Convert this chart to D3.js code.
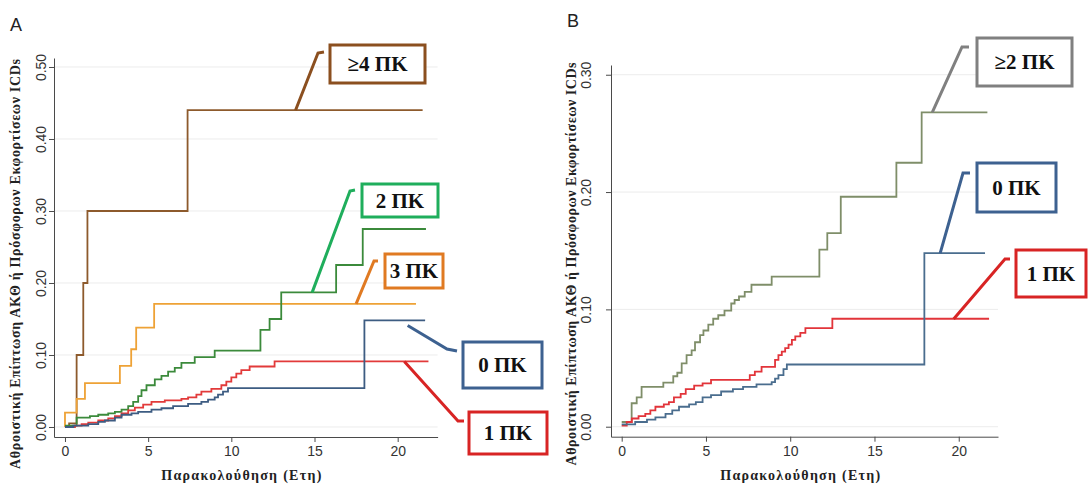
<!DOCTYPE html>
<html>
<head>
<meta charset="utf-8">
<script src="https://cdn.jsdelivr.net/npm/d3@7"></script>
<style>
  body { margin: 0; background: #fff; }
  svg { display: block; }
</style>
</head>
<body>
<svg id="chart"></svg>
<script>
// step data: [years, cumulative incidence]
const a0PK = [[0,0],[0.5,0.002],[1.4,0.004],[2.0,0.007],[2.4,0.009],[3.0,0.013],[3.4,0.017],[4.0,0.019],[4.4,0.021],[5.2,0.024],[5.8,0.026],[6.5,0.029],[7.4,0.032],[8.2,0.035],[8.6,0.038],[9.0,0.041],[9.2,0.045],[9.5,0.049],[9.8,0.054],[18.0,0.148],[21.65,0.148]];
const a1PK = [[0,0],[0.6,0.002],[1.0,0.004],[1.4,0.006],[2.0,0.009],[2.6,0.012],[3.0,0.015],[3.4,0.019],[3.8,0.023],[4.2,0.027],[4.7,0.031],[5.2,0.035],[6.0,0.037],[7.0,0.039],[7.4,0.041],[7.9,0.045],[8.2,0.049],[8.8,0.053],[9.4,0.058],[9.7,0.063],[10.0,0.069],[10.3,0.074],[10.6,0.079],[11.1,0.084],[12.6,0.091],[21.85,0.091]];
const a2PK = [[0,0.002],[0.7,0.013],[1.5,0.015],[2.0,0.017],[2.6,0.019],[3.0,0.021],[3.4,0.024],[3.8,0.029],[4.1,0.035],[4.4,0.043],[4.6,0.051],[4.9,0.058],[5.4,0.066],[5.8,0.071],[6.2,0.077],[6.6,0.082],[7.0,0.089],[7.8,0.097],[9.0,0.106],[11.75,0.135],[12.3,0.15],[13.0,0.187],[16.3,0.225],[17.9,0.275],[21.7,0.275]];
const a3PK = [[0,0],[0,0.02],[0.7,0.039],[1.2,0.061],[3.3,0.085],[3.98,0.108],[4.28,0.138],[5.36,0.171],[21.1,0.171]];
const a4PK = [[0,0],[0.25,0.005],[0.7,0.10],[1.1,0.20],[1.35,0.30],[7.37,0.44],[21.5,0.44]];

const b0PK = [[0,0.002],[0.8,0.004],[1.5,0.006],[2.0,0.008],[2.6,0.011],[3.0,0.014],[3.4,0.017],[4.0,0.019],[4.4,0.021],[4.8,0.025],[5.3,0.027],[5.9,0.030],[6.6,0.032],[7.2,0.034],[8.0,0.036],[8.9,0.038],[9.1,0.041],[9.3,0.044],[9.6,0.049],[9.8,0.053],[17.96,0.148],[21.56,0.148]];
const b1PK = [[0,0.001],[0.3,0.004],[0.6,0.007],[1.0,0.009],[1.4,0.011],[1.7,0.014],[2.0,0.017],[2.5,0.019],[2.8,0.021],[3.1,0.025],[3.5,0.028],[3.8,0.032],[4.3,0.035],[4.8,0.037],[5.3,0.040],[7.6,0.044],[7.9,0.047],[8.3,0.051],[9.1,0.057],[9.3,0.061],[9.5,0.064],[9.7,0.067],[9.9,0.070],[10.1,0.074],[10.3,0.077],[10.6,0.080],[10.9,0.084],[12.5,0.092],[21.8,0.092]];
const b2PK = [[0,0.004],[0.59,0.02],[0.89,0.025],[1.18,0.034],[2.47,0.0375],[3.06,0.043],[3.3,0.046],[3.56,0.054],[3.85,0.061],[4.15,0.065],[4.35,0.072],[4.65,0.078],[4.85,0.082],[5.14,0.087],[5.43,0.092],[5.73,0.095],[6.1,0.099],[6.5,0.105],[6.7,0.108],[6.96,0.111],[7.3,0.115],[7.7,0.121],[8.9,0.128],[11.73,0.151],[12.2,0.165],[13.0,0.196],[16.3,0.225],[17.8,0.268],[21.7,0.268]];

const xTicks = [0, 5, 10, 15, 20];
const yTicksA = [0, 0.1, 0.2, 0.3, 0.4, 0.5];
const yTicksB = [0, 0.1, 0.2, 0.3];

const yTitle = "Αθροιστική Επίπτωση ΑΚΘ ή Πρόσφορων Εκφορτίσεων ICDs";
const xTitle = "Παρακολούθηση (Ετη)";

const width = 1089;
const height = 489;

const svg = d3.select("#chart").attr("width", width).attr("height", height);

const panels = [
  {
    name: "A", labelX: 10, labelY: 31,
    x: d3.scaleLinear().domain([-0.66, 22.4]).range([54, 437.6]),
    y: d3.scaleLinear().domain([-0.0139, 0.5125]).range([437, 58]),
    yTicks: yTicksA, tickGap: 8, yTitleX: 15, titleLen: 410,
    series: [
      { data: a4PK, color: "#8d5a2c" },
      { data: a3PK, color: "#eea236" },
      { data: a2PK, color: "#3b8a3b" },
      { data: a1PK, color: "#e23a3a" },
      { data: a0PK, color: "#3d5c82" }
    ],
    callouts: [
      { text: "≥4 ΠΚ", color: "#8b4f1f", at: [13.86, 0.44], pts: [[318, 53], [324, 52]], box: [330, 45, 95, 38] },
      { text: "2 ΠΚ", color: "#1fae5c", at: [14.86, 0.187], pts: [[350, 191], [355, 190]], box: [362, 184, 76, 33] },
      { text: "3 ΠΚ", color: "#e07a22", at: [17.5, 0.171], pts: [[374, 261], [378, 261]], box: [385, 254, 58, 34] },
      { text: "0 ΠΚ", color: "#3d6190", at: [20.6, 0.141], pts: [[447, 349], [457, 351]], box: [463, 342, 79, 46] },
      { text: "1 ΠΚ", color: "#d82424", at: [20.4, 0.091], pts: [[458, 421], [464, 421]], box: [469, 412, 78, 42] }
    ]
  },
  {
    name: "B", labelX: 567, labelY: 27,
    x: d3.scaleLinear().domain([-0.635, 22.33]).range([611, 998]),
    y: d3.scaleLinear().domain([-0.00852, 0.3083]).range([436.7, 65]),
    yTicks: yTicksB, tickGap: 20, yTitleX: 571, titleLen: 403,
    series: [
      { data: b2PK, color: "#7f8e69" },
      { data: b1PK, color: "#e2343a" },
      { data: b0PK, color: "#4a6d8e" }
    ],
    callouts: [
      { text: "≥2 ΠΚ", color: "#808080", at: [18.43, 0.268], pts: [[962, 47], [969, 47]], box: [977, 38, 95, 48] },
      { text: "0 ΠΚ", color: "#3d6190", at: [18.9, 0.148], pts: [[963, 173], [970, 173]], box: [977, 163, 79, 49] },
      { text: "1 ΠΚ", color: "#d82424", at: [19.7, 0.0918], pts: [[1005, 259], [1010, 259]], box: [1016, 250, 70, 47] }
    ]
  }
];

const drawPanel = (p) => {
  const g = svg.append("g").attr("id", "panel-" + p.name);
  const [x0, x1] = p.x.range();
  const [yb, yt] = p.y.range();

  // light gridlines
  g.append("g").selectAll("line")
    .data(p.yTicks)
    .enter()
    .append("line")
    .attr("x1", x0 + 1).attr("x2", x1)
    .attr("y1", (d) => p.y(d)).attr("y2", (d) => p.y(d))
    .style("stroke", "#ececec").style("stroke-width", 1);

  const xAxis = d3.axisBottom(p.x).tickValues(xTicks).tickSize(5).tickSizeOuter(0).tickPadding(4);
  const gx = g.append("g").attr("transform", "translate(0," + yb + ")").call(xAxis);
  gx.select(".domain").style("stroke", "#4a4a4a");
  gx.selectAll(".tick line").style("stroke", "#4a4a4a");
  gx.selectAll("text")
    .style("font-family", "'Liberation Sans', Arial, sans-serif")
    .style("font-size", "14px").style("fill", "#333");

  const yAxis = d3.axisLeft(p.y).tickValues(p.yTicks).tickSize(5).tickSizeOuter(0).tickFormat(d3.format(".2f"));
  const gy = g.append("g").attr("transform", "translate(" + x0 + ",0)").call(yAxis);
  gy.select(".domain").style("stroke", "#4a4a4a");
  gy.selectAll(".tick line").style("stroke", "#4a4a4a");
  gy.selectAll("text")
    .attr("transform", "rotate(-90)")
    .attr("x", 0).attr("y", -p.tickGap).attr("dy", 0)
    .attr("text-anchor", "middle")
    .style("font-family", "'Liberation Sans', Arial, sans-serif")
    .style("font-size", "14px").style("fill", "#333");

  // step lines
  const line = d3.line()
    .x((d) => p.x(d[0]))
    .y((d) => p.y(d[1]))
    .curve(d3.curveStepAfter);

  g.append("g").selectAll("path")
    .data(p.series)
    .enter()
    .append("path")
    .attr("d", (s) => line(s.data))
    .style("fill", "none")
    .style("stroke", (s) => s.color)
    .style("stroke-width", 1.8);

  // callout boxes with leader lines
  p.callouts.forEach((c) => {
    const start = [p.x(c.at[0]), p.y(c.at[1])];
    g.append("polyline")
      .attr("points", [start].concat(c.pts).map((q) => q.join(",")).join(" "))
      .style("fill", "none").style("stroke", c.color).style("stroke-width", 3);
    g.append("rect")
      .attr("x", c.box[0]).attr("y", c.box[1])
      .attr("width", c.box[2]).attr("height", c.box[3])
      .style("fill", "#fff").style("stroke", c.color).style("stroke-width", 3);
    g.append("text")
      .attr("x", c.box[0] + c.box[2] / 2)
      .attr("y", c.box[1] + c.box[3] / 2 + 7)
      .attr("text-anchor", "middle")
      .style("font-family", "'Liberation Serif', 'Times New Roman', serif")
      .style("font-weight", "bold").style("font-size", "21px").style("fill", "#111")
      .text(c.text);
  });

  // axis titles
  g.append("text")
    .attr("transform", "translate(" + (p.yTitleX + 5) + "," + 264 + ") rotate(-90)")
    .attr("text-anchor", "middle")
    .attr("textLength", p.titleLen).attr("lengthAdjust", "spacing")
    .style("font-family", "'Liberation Serif', 'Times New Roman', serif")
    .style("font-weight", "bold").style("font-size", "14px").style("fill", "#222")
    .text(yTitle);

  g.append("text")
    .attr("x", (p.x(0) + p.x(20)) / 2 + 10)
    .attr("y", 480)
    .attr("text-anchor", "middle")
    .attr("textLength", 160).attr("lengthAdjust", "spacing")
    .style("font-family", "'Liberation Serif', 'Times New Roman', serif")
    .style("font-weight", "bold").style("font-size", "14px").style("fill", "#222")
    .text(xTitle);

  g.append("text")
    .attr("x", p.labelX).attr("y", p.labelY)
    .style("font-family", "'Liberation Sans', Arial, sans-serif")
    .style("font-size", "18px").style("fill", "#222")
    .text(p.name);
};

panels.forEach(drawPanel);
</script>
</body>
</html>
